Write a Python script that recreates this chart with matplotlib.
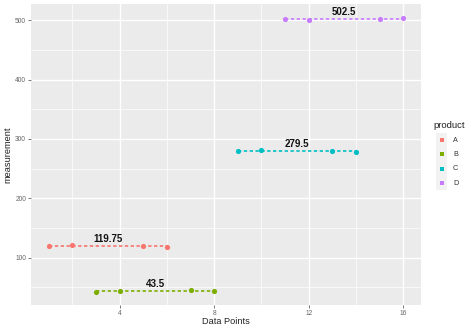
import matplotlib
matplotlib.use("Agg")
import matplotlib.pyplot as plt
import numpy as np

plt.rcParams["font.family"] = ["Liberation Sans", "DejaVu Sans"]

# data
products = ["A", "B", "C", "D"]
colors = ["#F8766D", "#7CAE00", "#00BFC4", "#C77CFF"]
x_a = [1, 2, 5, 6]
y_a = [120, 122, 119, 118]
x_b = [3, 4, 7, 8]
y_b = [42, 44, 45, 43]
x_c = [9, 10, 13, 14]
y_c = [280, 281, 279, 278]
x_d = [11, 12, 15, 16]
y_d = [502, 501, 503, 504]
xs = [x_a, x_b, x_c, x_d]
ys = [y_a, y_b, y_c, y_d]

W, H = 474, 331
fig = plt.figure(figsize=(W / 100, H / 100), dpi=100)
ax = fig.add_axes([31 / W, 1 - 305 / H, 390 / W, 301 / H])
ax.set_facecolor("#EBEBEB")

for x, y, c in zip(xs, ys, colors):
    m = np.mean(y)
    ax.plot([min(x), max(x)], [m, m], color=c, lw=1.2, ls=(0, (2.0, 1.5)), zorder=3)
    ax.scatter(x, y, color=c, s=14, zorder=4, linewidths=0)
    label = ("%.2f" % m).rstrip("0").rstrip(".")
    ax.annotate(label, ((min(x) + max(x)) / 2, m), xytext=(0, 2.8),
                textcoords="offset points", ha="center", va="baseline",
                fontsize=7, fontweight="bold", color="#111111", zorder=5)

ax.set_xlim(0.25, 16.75)
ax.set_ylim(20, 527.5)
ax.set_xticks([4, 8, 12, 16])
ax.set_yticks([100, 200, 300, 400, 500])
ax.set_xticks([2, 6, 10, 14], minor=True)
ax.set_yticks([50, 150, 250, 350, 450], minor=True)
ax.grid(which="major", color="white", lw=1.0)
ax.grid(which="minor", color="white", lw=0.5)
ax.set_axisbelow(True)
for s in ax.spines.values():
    s.set_visible(False)
ax.tick_params(which="major", length=2, width=0.5, color="#444444",
               labelsize=4.8, labelcolor="#666666", pad=1.5)
ax.tick_params(which="minor", length=0)

fig.text(226 / W, 1 - 322 / H, "Data Points", fontsize=6.6, ha="center", va="center",
         color="#222222")
fig.text(8 / W, 1 - 155 / H, "measurement", fontsize=6.7, rotation=90,
         ha="center", va="center", color="#222222")

# legend (ggplot style: grey key column with a dot per product)
fig.text(433 / W, 1 - 125 / H, "product", fontsize=6.8, ha="left", va="center",
         color="#222222")
key_top, key_h = 133, 14.3
lax = fig.add_axes([436 / W, 1 - (key_top + 4 * key_h) / H, 11 / W, 4 * key_h / H])
lax.set_facecolor("#F2F2F2")
lax.set_xlim(0, 1)
lax.set_ylim(3.5, -0.5)
lax.set_xticks([])
lax.set_yticks([])
for s in lax.spines.values():
    s.set_visible(False)
for i, (p, c) in enumerate(zip(products, colors)):
    lax.scatter([0.5], [i], color=c, s=9, marker="s", linewidths=0)
    fig.text(453 / W, 1 - (key_top + (i + 0.5) * key_h) / H, p, fontsize=5.2,
             ha="left", va="center", color="#333333")

fig.savefig("out.png", dpi=100)
